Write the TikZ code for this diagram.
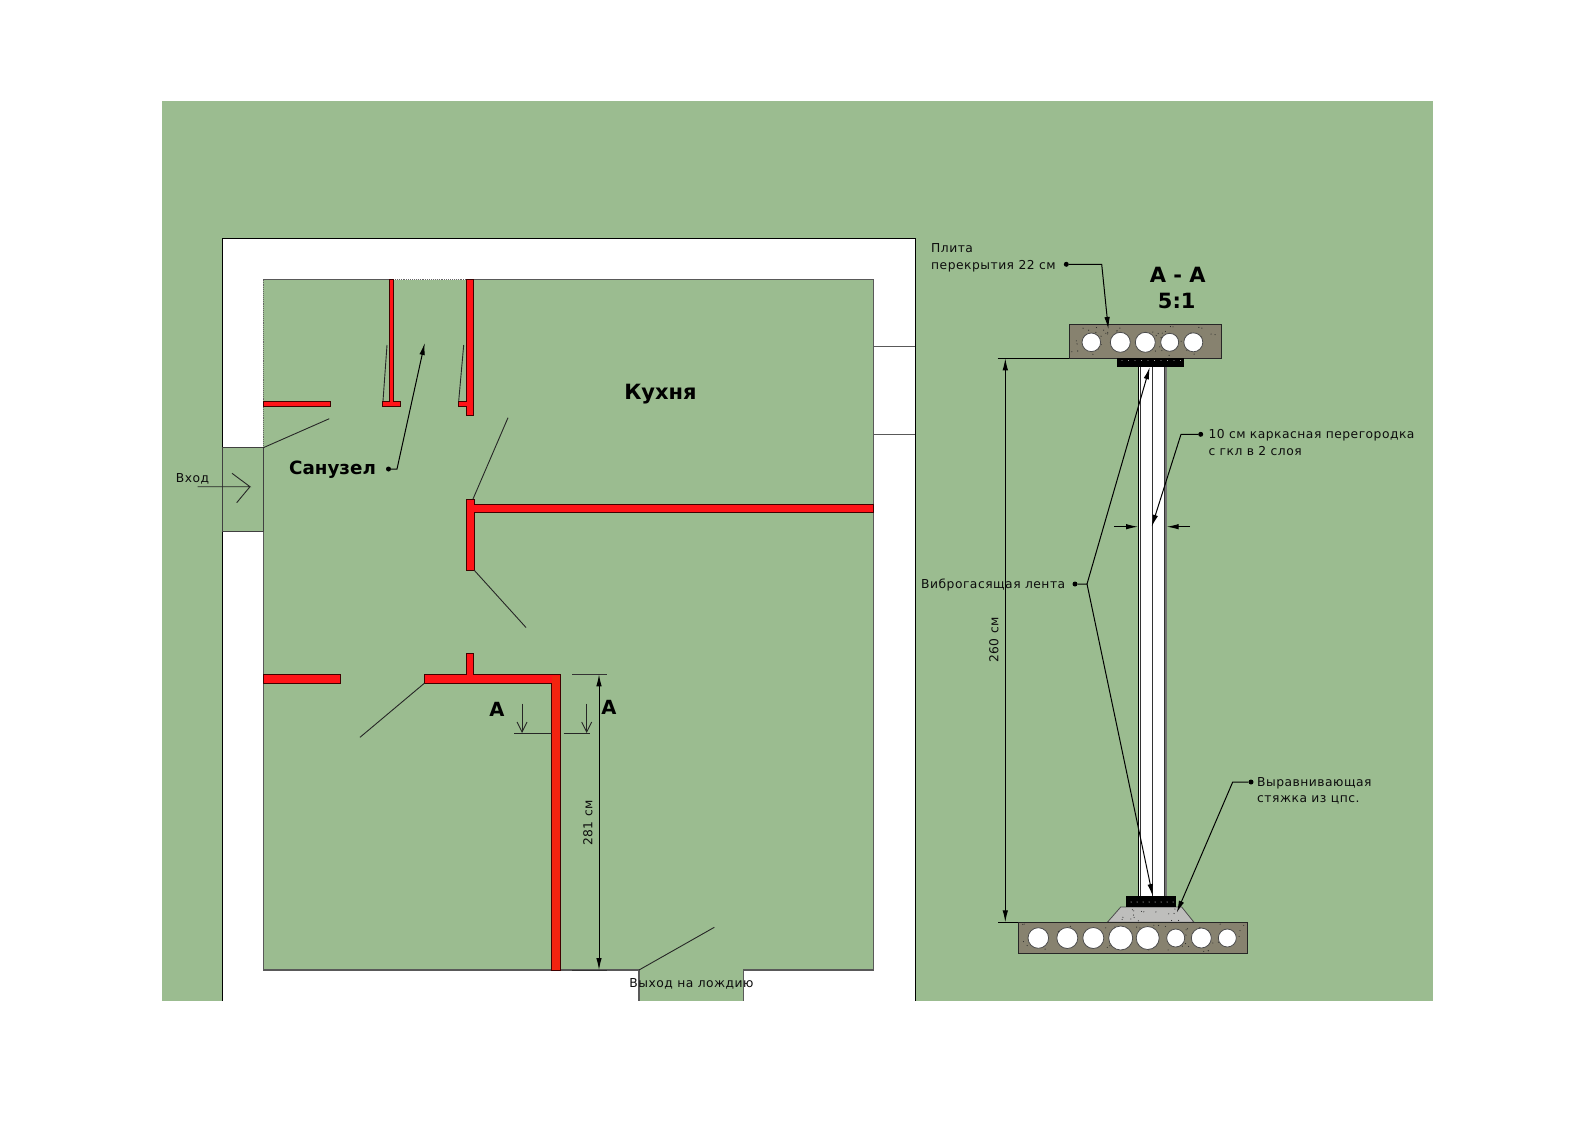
\documentclass[tikz,border=0pt]{standalone}
\usepackage{fontspec}
\setmainfont{DejaVu Sans}
\newfontfamily\spaced[LetterSpace=4]{DejaVu Sans}
\usetikzlibrary{arrows.meta}
\definecolor{bggreen}{HTML}{9BBC90}
\definecolor{wallred}{HTML}{FF1418}
\definecolor{wallor}{HTML}{F2240F}
\definecolor{concrete}{HTML}{87826F}
\definecolor{screed}{HTML}{BEBEBC}
\tikzset{
  x=1pt,y=-1pt,
  redwall/.style={fill=wallred,draw=black!75!red,line width=0.7pt},
  outline/.style={draw=black,line width=1pt},
  thinline/.style={draw=black!65,line width=1.1pt},
  doorline/.style={draw=black!85,line width=0.9pt},
  leader/.style={draw=black,line width=1pt},
  arrowed/.style={leader,-{Latex[length=12pt,width=5.5pt]}},
  bullet/.style={circle,fill=black,inner sep=0pt,minimum size=5pt},
  small/.style={font=\spaced\fontsize{12.3}{16.5}\selectfont,inner sep=0pt,align=left,text=black!95},
  big/.style={font=\fontsize{21}{25}\selectfont\bfseries,inner sep=0pt,text=black},
  mid/.style={font=\fontsize{18.3}{22}\selectfont\bfseries,inner sep=0pt,text=black},
  slab/.style={fill=concrete,draw=black!85,line width=0.9pt},
  hole/.style={circle,fill=white,draw=black!70,line width=0.8pt,inner sep=0pt},
}
\newcommand{\specks}[5]{%
  \foreach \i in {1,...,#5}{%
    \pgfmathsetmacro{\px}{#1+(#3-#1)*rnd}%
    \pgfmathsetmacro{\py}{#2+(#4-#2)*rnd}%
    \fill[black!85] (\px,\py) circle[radius=0.55pt];
  }%
}
\begin{document}
\begin{tikzpicture}
\useasboundingbox (0,0) rectangle (1587,1122);
\fill[white] (0,0) rectangle (1587,1122);
\pgfmathsetseed{11}
% ground
\fill[bggreen] (162,101) rectangle (1433,1001);
% outer walls
\fill[white] (222.7,238) rectangle (915,1001);
% rooms
\fill[bggreen] (263.3,279.7) rectangle (873.5,970);
% entry
\fill[bggreen] (222.7,447.3) rectangle (263.3,531.7);
% loggia
\fill[bggreen] (639,970) rectangle (743.3,1001);
% outline of the walls
\draw[outline] (222.7,1001) -- (222.7,238) -- (915,238) -- (915,1001);
\draw[draw=black!75,line width=1.2pt] (222.7,447.3) rectangle (263.3,531.7);
% window
\draw[thinline] (873.5,346.7) -- (915,346.7) (873.5,434.3) -- (915,434.3);
% room outline
\draw[thinline] (263.3,279.7) -- (389,279.7) (466.3,279.7) -- (873.5,279.7) -- (873.5,970) -- (743.3,970) -- (743.3,1001);
\draw[thinline] (263.3,531.7) -- (263.3,970) -- (639,970) -- (639,1001);
\draw[black!60,line width=0.9pt,densely dotted] (263.3,279.7) -- (263.3,447.3);
\draw[black!60,line width=0.9pt,densely dotted] (393,279.7) -- (466.3,279.7);
% red walls
\draw[redwall] (389,279.7) -- (393,279.7) -- (393,401) -- (400.7,401) -- (400.7,406) -- (382.7,406) -- (382.7,401) -- (389,401) -- cycle;
\draw[redwall] (263.3,401) rectangle (330.7,406);
\draw[redwall] (466.3,279.7) -- (473.7,279.7) -- (473.7,415.3) -- (466.3,415.3) -- (466.3,406) -- (458.3,406) -- (458.3,401) -- (466.3,401) -- cycle;
\draw[redwall] (466,499.3) -- (474,499.3) -- (474,504) -- (873.5,504) -- (873.5,512.7) -- (474,512.7) -- (474,570) -- (466,570) -- cycle;
\draw[redwall] (263.3,674.3) rectangle (340.7,683.3);
\draw[redwall] (466.3,653.3) -- (473.3,653.3) -- (473.3,674.3) -- (560.7,674.3) -- (560.7,970) -- (551.7,970) -- (551.7,683.3) -- (424.3,683.3) -- (424.3,674.3) -- (466.3,674.3) -- cycle;
\fill[wallor] (552.1,675.5) rectangle (560.3,969.6);
% door leaves
\draw[doorline] (383,401) -- (387,345);
\draw[doorline] (458.7,401) -- (463.7,345);
\draw[doorline] (263.3,447.7) -- (329.3,418.7);
\draw[doorline] (473,499) -- (508,417.7);
\draw[doorline] (474,570) -- (526,627.5);
\draw[doorline] (424.3,683.3) -- (360,737.3);
\draw[doorline] (639,970) -- (714.3,927.3);
% entry arrow
\node[small,anchor=west] (vhod) at (175.7,479) {Вход};
\coordinate (entryA) at (197.7,486.7);
\coordinate (entryB) at (250,486.7);
\coordinate (entryC) at (232,473.3);
\coordinate (entryD) at (236.7,502.7);
\draw[doorline] (entryA) -- (entryB) -- (entryC) (entryB) -- (entryD);
% labels in plan
\node[big,anchor=center] (kuhnya) at (660.5,394.5) {Кухня};
\node[mid,anchor=center] (sanuzel) at (332.5,469.5) {Санузел};
\node[bullet] (sanb) at (388.5,469) {};
\coordinate (sanc) at (397,469);
\coordinate (sant) at (424.7,343);
\draw[arrowed] (sanb) -- (sanc) -- (sant);
% section marks
\coordinate (secL1) at (514,733);
\coordinate (secL2) at (551.7,733);
\coordinate (secR1) at (563.7,733);
\coordinate (secR2) at (590,733);
\coordinate (secLa) at (522,703.7);
\coordinate (secLb) at (522,733);
\coordinate (secRa) at (586.7,703.7);
\coordinate (secRb) at (586.7,733);
\draw[doorline] (secL1) -- (secL2) (secR1) -- (secR2);
\draw[doorline,-{Straight Barb[length=10pt,width=10pt]}] (secLa) -- (secLb);
\draw[doorline,-{Straight Barb[length=10pt,width=10pt]}] (secRa) -- (secRb);
\node[font=\fontsize{19.5}{23}\selectfont\bfseries,inner sep=0pt,anchor=center] (aL) at (497,709) {A};
\node[font=\fontsize{19.5}{23}\selectfont\bfseries,inner sep=0pt,anchor=center] (aR) at (609,707) {A};
% dim 281
\coordinate (d1a) at (572.3,674.3);
\coordinate (d1b) at (606.7,674.3);
\coordinate (d1c) at (572.3,970);
\coordinate (d1d) at (606.7,970);
\coordinate (d1t) at (599,674.3);
\coordinate (d1u) at (599,970);
\draw[leader,draw=black!80] (d1a) -- (d1b) (d1c) -- (d1d);
\draw[leader,{Latex[length=12pt,width=5.5pt]}-{Latex[length=12pt,width=5.5pt]}] (d1t) -- (d1u);
\node[small,rotate=90,anchor=center] (dim281) at (588,823) {281 см};
\node[small,anchor=center] (exit) at (691.5,983.5) {Выход на лождию};
% partition
\fill[white] (1138.3,367) rectangle (1166.5,896);
\draw[draw=black,line width=1.1pt] (1138.3,367) -- (1138.3,896);
\draw[draw=black!80,line width=0.9pt] (1140.5,367) -- (1140.5,896);
\draw[draw=black!80,line width=0.9pt] (1152.5,367) -- (1152.5,896);
\draw[draw=black!80,line width=0.9pt] (1164,367) -- (1164,896);
\draw[draw=black!55,line width=1.4pt] (1166,367) -- (1166,896);
% top slab
\draw[slab] (1069.3,324.3) rectangle (1221.7,358.3);
\specks{1071}{326}{1220}{357}{60}
\foreach \cx/\r [count=\n] in {1091.3/9.3,1120.3/10,1145.3/10,1169.7/9,1193.3/9.5}
  \node[hole,minimum size=2*\r pt] (topc\n) at (\cx,342.3) {};
% top strip
\fill[black] (1117.3,358.3) rectangle (1183.7,367.3);
\foreach \k in {0,...,9} \fill[white] (1122+\k*6.5,360.5) circle[radius=0.45pt];
% bottom strip, screed
\draw[fill=screed,draw=black!70,line width=0.8pt] (1107.3,922.3) -- (1120.7,907) -- (1181.7,907) -- (1194,922.3) -- cycle;
\specks{1122}{909}{1180}{921}{16}
\fill[black] (1126,896) rectangle (1176,907);
\foreach \k in {0,...,7} {\fill[white] (1131+\k*6,902) circle[radius=0.5pt];}
% bottom slab
\draw[slab] (1018,922.3) rectangle (1247.3,953.3);
\specks{1020}{924}{1246}{952}{70}
\foreach \cx/\r [count=\n] in {1038.3/10.3,1067.3/10.5,1093.3/10.5,1120.7/12,1147.7/11.5,1175.7/9,1201.3/10,1227.3/9}
  \node[hole,minimum size=2*\r pt] (botc\n) at (\cx,938) {};
% dim 260
\coordinate (d2a) at (997.7,358.3);
\coordinate (d2b) at (1069.3,358.3);
\coordinate (d2c) at (998.3,922.3);
\coordinate (d2d) at (1018,922.3);
\coordinate (d2t) at (1005.3,358.3);
\coordinate (d2u) at (1005.3,922.3);
\draw[leader,line width=1.1pt] (d2a) -- (d2b) (d2c) -- (d2d);
\draw[leader,{Latex[length=12pt,width=5.5pt]}-{Latex[length=12pt,width=5.5pt]}] (d2t) -- (d2u);
\node[small,rotate=90,anchor=center] (dim260) at (994,640) {260 см};
% title
\node[big,anchor=center] (title) at (1177.7,275.3) {А - А};
\node[big,anchor=center] (scale) at (1176.7,300.7) {5:1};
% slab label
\node[small,anchor=north west] (plita) at (931,243.5) {Плита\\перекрытия 22 см};
\node[bullet] (plb) at (1066.3,264.3) {};
\coordinate (plc) at (1101.7,264.3);
\coordinate (plt) at (1108.3,329);
\draw[arrowed] (plb) -- (plc) -- (plt);
% damper label
\node[small,anchor=west] (vibro) at (921,585) {Виброгасящая лента};
\node[bullet] (vbb) at (1075,584) {};
\coordinate (vbc) at (1087,584);
\coordinate (vbt) at (1149.7,367.3);
\coordinate (vbu) at (1152.7,896);
\draw[arrowed] (vbb) -- (vbc) -- (vbt);
\draw[arrowed] (vbc) -- (vbu);
% partition label
\node[small,anchor=north west] (karkas) at (1208.3,429.5) {10 см каркасная перегородка\\с гкл в 2 слоя};
\node[bullet] (kab) at (1200.7,434.3) {};
\coordinate (kac) at (1181,434.3);
\coordinate (kat) at (1151.7,526.7);
\draw[arrowed] (kab) -- (kac) -- (kat);
\coordinate (wL) at (1114,526.7);
\coordinate (wLt) at (1138,526.7);
\coordinate (wR) at (1190,526.7);
\coordinate (wRt) at (1166.7,526.7);
\draw[arrowed] (wL) -- (wLt);
\draw[arrowed] (wR) -- (wRt);
% screed label
\node[small,anchor=north west] (styazhka) at (1257,777) {Выравнивающая\\стяжка из цпс.};
\node[bullet] (stb) at (1251,782) {};
\coordinate (stc) at (1232.7,782);
\coordinate (stt) at (1176.7,912.7);
\draw[arrowed] (stb) -- (stc) -- (stt);
\end{tikzpicture}
\end{document}
